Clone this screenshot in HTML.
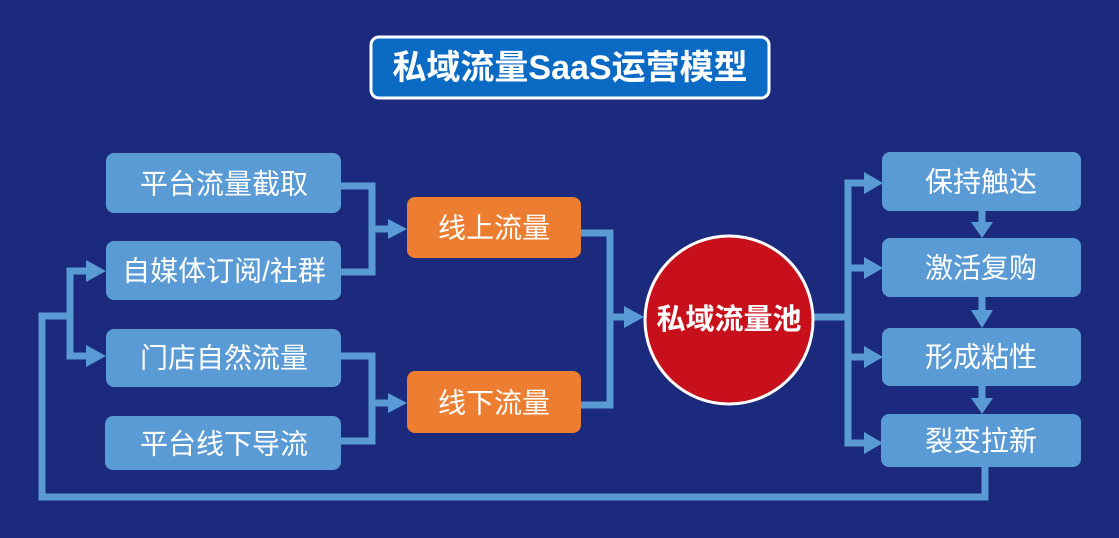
<!DOCTYPE html>
<html><head><meta charset="utf-8"><style>
html,body{margin:0;padding:0;background:#1b2a7c;}
svg{display:block}
text{font-family:"Liberation Sans","Noto Sans CJK SC",sans-serif;fill:#fff;text-anchor:middle;dominant-baseline:central}
</style></head><body>
<svg width="1119" height="538" viewBox="0 0 1119 538">
<rect width="1119" height="538" fill="#1b2a7c"/>
<rect x="371" y="37" width="398" height="61" rx="8" fill="#0b6bc4" stroke="#fff" stroke-width="3"/>
<text x="570" y="68" font-size="34" font-weight="bold">私域流量SaaS运营模型</text>
<g fill="none" stroke="#5b9bd5" stroke-width="7">
<polyline points="341,186 372,186 372,272 341,272"/>
<line x1="372" y1="229" x2="392" y2="229"/>
<polyline points="341,356 372,356 372,441 341,441"/>
<line x1="372" y1="403" x2="392" y2="403"/>
<polyline points="581,233 610,233 610,405 581,405"/>
<line x1="610" y1="317" x2="628" y2="317"/>
<line x1="814" y1="317" x2="848" y2="317"/>
<polyline points="868,183 848,183 848,443 868,443"/>
<line x1="848" y1="268" x2="868" y2="268"/>
<line x1="848" y1="357" x2="868" y2="357"/>
<polyline points="985,467 985,497 42,497 42,316 70,316"/>
<polyline points="90,271 70,271 70,356 90,356"/>
<line x1="982" y1="211" x2="982" y2="224"/>
<line x1="982" y1="297" x2="982" y2="314"/>
<line x1="982" y1="386" x2="982" y2="400"/>
</g>
<g fill="#5b9bd5">
<polygon points="388,219 407,229 388,239"/>
<polygon points="388,393 407,403 388,413"/>
<polygon points="624,306 644,317 624,328"/>
<polygon points="864,172 883,183 864,194"/>
<polygon points="864,257 883,268 864,279"/>
<polygon points="864,346 883,357 864,368"/>
<polygon points="864,432 883,443 864,454"/>
<polygon points="86,260 106,271 86,282"/>
<polygon points="86,345 106,356 86,367"/>
<polygon points="971,222 993,222 982,238"/>
<polygon points="971,310 993,310 982,328"/>
<polygon points="971,398 993,398 982,414"/>
</g>
<g fill="#5b9bd5">
<rect x="106" y="153" width="235" height="60" rx="8"/>
<rect x="106" y="241" width="235" height="59" rx="8"/>
<rect x="106" y="329" width="235" height="58" rx="8"/>
<rect x="105" y="416" width="236" height="54" rx="8"/>
<rect x="882" y="152" width="199" height="59" rx="8"/>
<rect x="882" y="238" width="199" height="59" rx="8"/>
<rect x="882" y="328" width="199" height="58" rx="8"/>
<rect x="881" y="414" width="200" height="53" rx="8"/>
</g>
<rect x="407" y="197" width="174" height="61" rx="8" fill="#ed7d31"/>
<rect x="407" y="371" width="174" height="62" rx="8" fill="#ed7d31"/>
<circle cx="729" cy="320" r="84" fill="#c8101c" stroke="#fff" stroke-width="3"/>
<g font-size="28">
<text x="224" y="184">平台流量截取</text>
<text x="224" y="271">自媒体订阅/社群</text>
<text x="224" y="358">门店自然流量</text>
<text x="224" y="444">平台线下导流</text>
<text x="494" y="228">线上流量</text>
<text x="494" y="403">线下流量</text>
<text x="981" y="182">保持触达</text>
<text x="981" y="268">激活复购</text>
<text x="981" y="357">形成粘性</text>
<text x="981" y="441">裂变拉新</text>
</g>
<text x="729" y="320" font-size="29" font-weight="bold">私域流量池</text>
</svg>
</body></html>
